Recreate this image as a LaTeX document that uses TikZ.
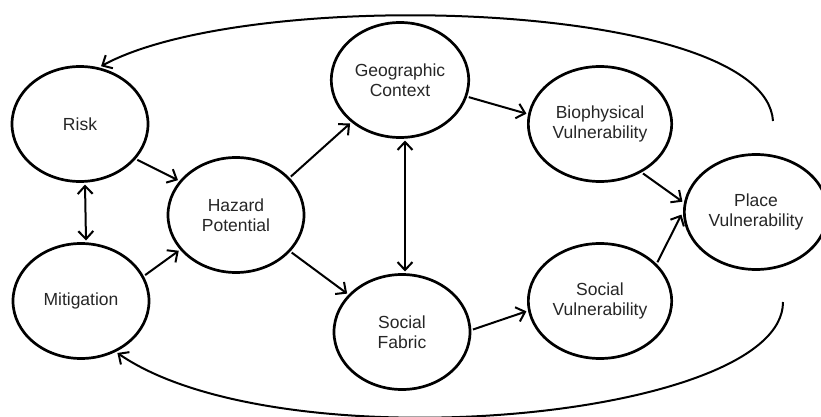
\documentclass[tikz,border=0pt]{standalone}
\usepackage{fontspec}
\setmainfont{Liberation Sans}
\usetikzlibrary{arrows.meta,shapes.geometric}

\begin{document}
\begin{tikzpicture}[x=1pt,y=-1pt,
  area/.style={ellipse,draw,line width=2.7pt,minimum width=136pt,minimum height=115pt,
    align=center,outer sep=3pt,text=black!85,font=\fontsize{17.5}{19.5}\selectfont},
  link/.style={-{Straight Barb[length=8pt,width=15pt]},line width=2pt},
  both/.style={link,{Straight Barb[length=8pt,width=15pt]}-{Straight Barb[length=8pt,width=15pt]}}]
  \useasboundingbox (0,0) rectangle (821,417);
  \foreach \n/\x/\y/\t in {risk/80/124/Risk, mitig/81/301/Mitigation,
      hazard/236/215/Hazard\\Potential, geo/400/80/Geographic\\Context,
      fabric/402/332/Social\\Fabric, bio/600/124/Biophysical\\Vulnerability,
      socvul/600/301/Social\\Vulnerability}
    \node[area] (\n) at (\x,\y) {\t};
  \node[area,minimum width=126pt] (place) at (756,212) {Place\\Vulnerability};
  % feedback loops
  \coordinate (topend) at (773,121);
  \coordinate (botend) at (783,302);
  % arrows between the boxes
  \foreach \a/\b in {risk.-32/hazard.149, mitig.22/hazard.212, hazard.35/geo.221,
      hazard.-34/fabric.145, geo.-14/bio.172, fabric.2/socvul.188,
      bio.-49/place.172, socvul.34/place.182}
    \draw[link] (\a) -- (\b);
  \draw[both] ([xshift=5pt]risk.south) -- ([xshift=5pt]mitig.north);
  \draw[both] ([xshift=5pt]geo.south) -- ([xshift=3pt]fabric.north);
  \draw[link] (topend) .. controls (765,0) and (250,-15) .. (risk.70);
  \draw[link] (botend) .. controls (783,420) and (280,465) .. (mitig.-55);
\end{tikzpicture}
\end{document}
